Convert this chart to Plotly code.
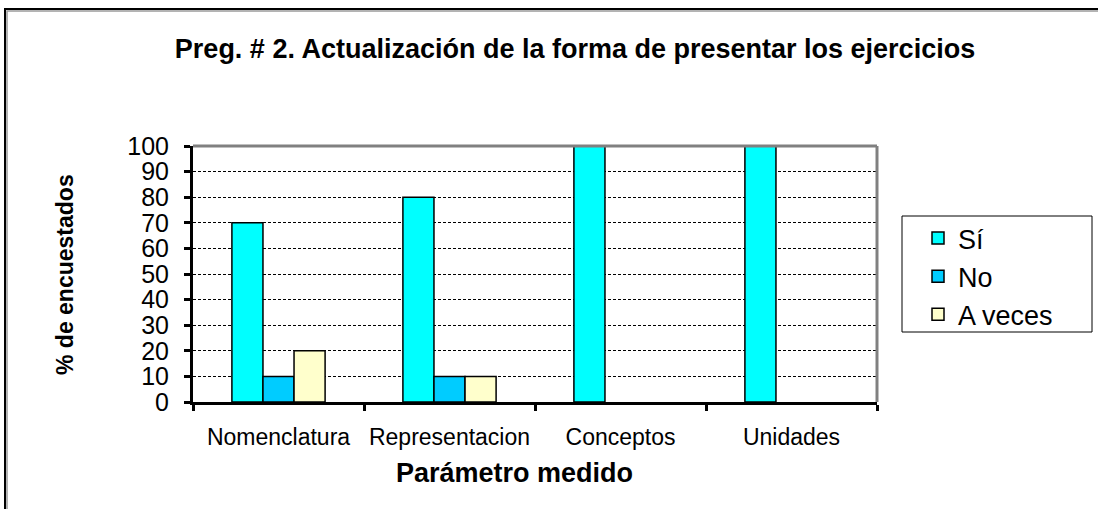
import plotly.graph_objects as go

categories = ["Nomenclatura", "Representacion", "Conceptos", "Unidades"]
si_vals = [70, 80, 100, 100]
no_vals = [10, 10, 0, 0]
aveces_vals = [20, 10, 0, 0]
y_ticks = [0, 10, 20, 30, 40, 50, 60, 70, 80, 90, 100]

W, H = 1098, 509
L, R, T, B = 193, 877, 146, 402
pw, ph = R - L, B - T


def px(x):
    return (x - L) / pw


def py(y):
    return (B - y) / ph


FONT = "Liberation Sans, Arial, sans-serif"

fig = go.Figure()
series = [("Sí", si_vals, "#00FFFF"), ("No", no_vals, "#00CCFF"), ("A veces", aveces_vals, "#FFFFCC")]
for i, (name, vals, col) in enumerate(series):
    fig.add_trace(go.Bar(
        x=categories, y=vals, name=name,
        marker=dict(color=col, line=dict(color="black", width=[1.5 if v > 0 else 0 for v in vals])),
    ))

fig.update_layout(
    width=W, height=H,
    margin=dict(l=L, r=W - R, t=T, b=H - B, autoexpand=False),
    paper_bgcolor="white", plot_bgcolor="white",
    barmode="group", bargap=0.455, bargroupgap=0,
    font=dict(family=FONT, color="black"),
    title=dict(
        text="<b>Preg. # 2. Actualización de la forma de presentar los ejercicios</b>",
        x=575 / W, xanchor="center", y=1 - 49 / H, yanchor="middle", yref="container",
        font=dict(size=27, family=FONT, color="black"),
    ),
    legend=dict(
        x=px(918), y=py(214), xanchor="left", yanchor="top",
        bgcolor="rgba(0,0,0,0)", borderwidth=0,
        font=dict(size=27, family=FONT, color="black"),
        traceorder="normal",
        itemwidth=30,
    ),
    showlegend=True,
)

fig.update_xaxes(
    type="category", range=[-0.5, 3.5],
    showline=True, linecolor="black", linewidth=3,
    ticks="outside", tickson="boundaries", ticklen=6, tickwidth=3, tickcolor="black",
    tickfont=dict(size=23, family=FONT, color="black"),
    tickangle=0,
    ticklabelstandoff=12,
    showgrid=False, zeroline=False,
)
fig.update_yaxes(
    range=[0, 100], tickvals=y_ticks,
    showline=True, linecolor="black", linewidth=3,
    ticks="outside", ticklen=6, tickwidth=3, tickcolor="black",
    tickfont=dict(size=25, family=FONT, color="black"),
    ticklabelstandoff=10,
    showgrid=True, gridcolor="black", gridwidth=1, griddash="3px,2px",
    zeroline=False,
)

# gray plot-area frame (top & right)
fig.add_shape(type="line", xref="paper", yref="paper", x0=0, x1=1, y0=1, y1=1,
              line=dict(color="#808080", width=3), layer="above")
fig.add_shape(type="line", xref="paper", yref="paper", x0=1, x1=1, y0=0, y1=1,
              line=dict(color="#808080", width=3), layer="above")

# legend box
fig.add_shape(type="rect", xref="paper", yref="paper",
              x0=px(902), x1=px(1092), y0=py(216), y1=py(332),
              line=dict(color="black", width=1), fillcolor="white", layer="below")

# outer chart border (extends beyond right/bottom)
fig.add_shape(type="rect", xref="paper", yref="paper",
              x0=px(7), x1=px(1110), y0=py(11), y1=py(520),
              line=dict(color="#9a9a9a", width=1.5), layer="below")
fig.add_shape(type="rect", xref="paper", yref="paper",
              x0=px(5), x1=px(1110), y0=py(9), y1=py(520),
              line=dict(color="black", width=2), layer="below")

# axis titles
fig.add_annotation(text="<b>Parámetro medido</b>", xref="paper", yref="paper",
                   x=px(514), y=py(473), xanchor="center", yanchor="middle",
                   showarrow=False, font=dict(size=27, family=FONT, color="black"))
fig.add_annotation(text="<b>% de encuestados</b>", xref="paper", yref="paper",
                   x=px(65), y=py(275), xanchor="center", yanchor="middle", textangle=-90,
                   showarrow=False, font=dict(size=23, family=FONT, color="black"))

fig.write_html("out.html", post_script="document.body.style.margin='0';",
               config={"displayModeBar": False})
